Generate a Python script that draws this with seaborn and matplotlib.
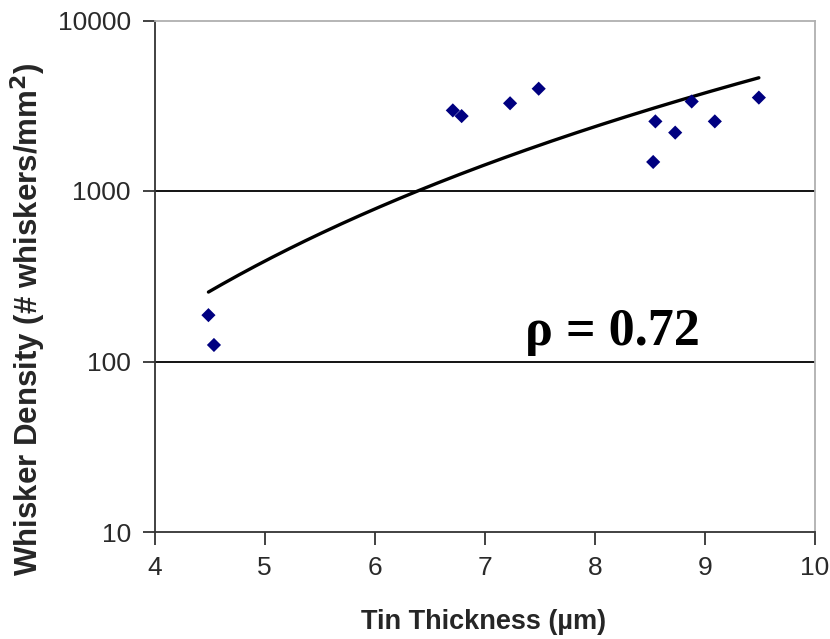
import numpy as np
import pandas as pd
import matplotlib
matplotlib.use("Agg")
import matplotlib.pyplot as plt
import seaborn as sns

# Data
thickness = [4.49, 4.54, 6.71, 6.79, 7.23, 7.49, 8.53, 8.55, 8.73, 8.88, 9.09, 9.49]
density = [187, 125, 2970, 2750, 3270, 3980, 1480, 2560, 2200, 3350, 2560, 3530]
x_ticks = [4, 5, 6, 7, 8, 9, 10]
y_ticks = [10, 100, 1000, 10000]
y_tick_labels = ["10", "100", "1000", "10000"]
rho_label = "\u03c1 = 0.72"

df = pd.DataFrame({"x": thickness, "y": density})

# Power-law trendline (Excel style: fit in log-log space)
b, a = np.polyfit(np.log10(df["x"]), np.log10(df["y"]), 1)
xs = np.linspace(df["x"].min(), df["x"].max(), 200)
trend = pd.DataFrame({"x": xs, "y": 10 ** (a + b * np.log10(xs))})

sns.set_theme(style="white")
plt.rcParams["font.family"] = ["Liberation Sans", "DejaVu Sans"]

fig = plt.figure(figsize=(8.30, 6.39), dpi=100)
ax = fig.add_axes([154.5 / 830, 1 - 532 / 639, (815 - 154.5) / 830, (532 - 20.5) / 639])

sns.lineplot(data=trend, x="x", y="y", ax=ax, color="black", linewidth=2.4, zorder=3)
sns.scatterplot(data=df, x="x", y="y", ax=ax, marker="D", s=52, color="#000080",
                edgecolor="none", linewidth=0, zorder=4)

ax.set_yscale("log")
ax.set_xlim(4, 10)
ax.set_ylim(10, 10000)
ax.set_xticks(x_ticks)
ax.set_xticklabels([str(t) for t in x_ticks])
ax.set_yticks(y_ticks)
ax.set_yticklabels(y_tick_labels)
ax.yaxis.set_minor_locator(matplotlib.ticker.NullLocator())
ax.xaxis.set_minor_locator(matplotlib.ticker.NullLocator())

ax.tick_params(axis="both", which="major", direction="out", length=9, width=1.3,
               color="#333333", labelsize=19, labelcolor="#2a2a2a", pad=8,
               bottom=True, left=True)

ax.yaxis.grid(True, color="black", linewidth=1.3)
ax.xaxis.grid(False)
gl = ax.yaxis.get_gridlines()
gl[0].set_visible(False)
gl[-1].set_visible(False)

for side in ["left", "bottom"]:
    ax.spines[side].set_color("#333333")
    ax.spines[side].set_linewidth(1.3)
for side in ["top", "right"]:
    ax.spines[side].set_color("#b0b0b0")
    ax.spines[side].set_linewidth(1.3)

ax.set_xlabel("Tin Thickness (\u00b5m)", fontsize=19.5, fontweight="bold", va="center")
ax.set_ylabel("Whisker Density (# whiskers/mm$^{\\mathbf{2}}$)", fontsize=22.5,
              fontweight="bold", va="center")
ax.xaxis.set_label_coords(0.498, -0.176)
ax.yaxis.set_label_coords(-0.191, 0.416)

ax.text(7.37, 125, rho_label, fontsize=37.5, fontweight="bold",
        family=["Liberation Serif", "DejaVu Serif"], ha="left", va="baseline",
        color="black", zorder=5)

fig.savefig("out.png", dpi=100)
